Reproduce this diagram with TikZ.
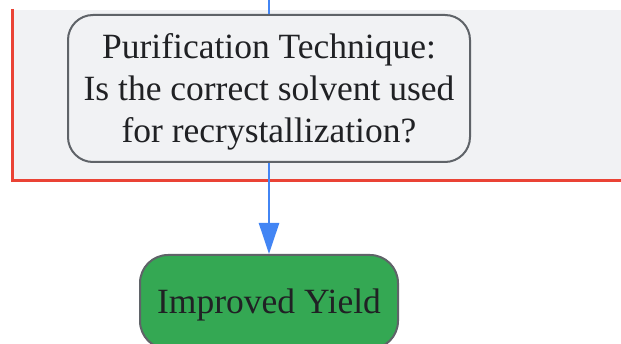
\documentclass[tikz,border=0pt]{standalone}
\usepackage{fontspec}
\setmainfont{Liberation Serif}
\usetikzlibrary{arrows.meta}
\definecolor{edgeblue}{HTML}{4285F4}
\definecolor{boxgray}{HTML}{5F6368}
\definecolor{bggray}{HTML}{F1F2F4}
\definecolor{redline}{HTML}{EA4335}
\definecolor{goodgreen}{HTML}{34A853}
\definecolor{txt}{HTML}{202124}
\tikzset{
  qbox/.style={draw=boxgray, line width=2pt, fill=bggray, rounded corners=25pt, minimum width=402pt, minimum height=147pt, inner sep=0pt},
  endbox/.style={draw=boxgray, line width=2pt, fill=goodgreen, rounded corners=28pt, minimum width=258pt, minimum height=94pt, inner sep=0pt},
  label text/.style={align=center, text=txt, font=\fontsize{35.5}{42}\selectfont, inner sep=0pt},
  flow/.style={draw=edgeblue, line width=2.5pt, -{Triangle[length=31pt,width=20pt]}},
}
\begin{document}
\begin{tikzpicture}[x=1pt,y=-1pt]
\useasboundingbox (0,0) rectangle (621,344);
\fill[bggray] (12,10) rectangle (621,181);
\draw[redline, line width=3pt] (12,9) -- (12,181) -- (622,181);
\node[qbox] (q) at (269,88.5) {};
\node[label text] (qt) at ([yshift=-3pt]q.center) {Purification Technique:\\Is the correct solvent used\\for recrystallization?};
\node[endbox] (y) at (269,302) {};
\node[label text] (yt) at ([yshift=-3pt]y.center) {Improved Yield};
\coordinate (top) at (269,0);
\draw[edgeblue, line width=2.5pt] (top) -- (q.north);
\draw[flow] (q.south) -- (y.north);
\end{tikzpicture}
\end{document}
